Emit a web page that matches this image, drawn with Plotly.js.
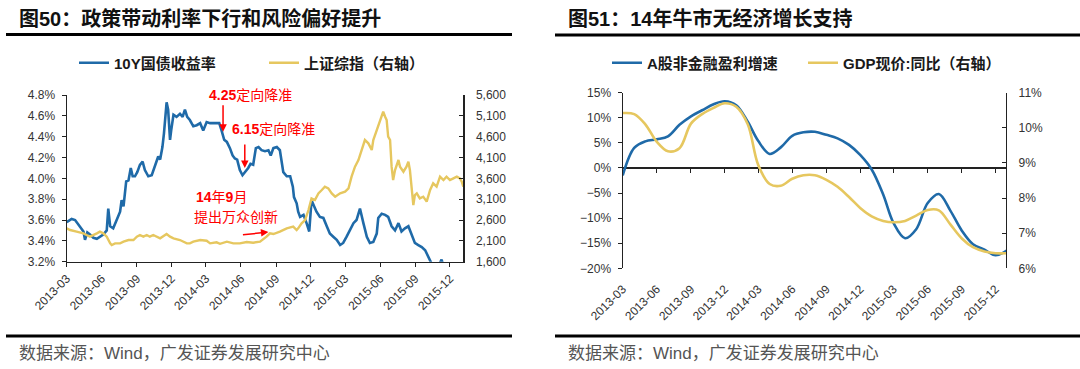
<!DOCTYPE html>
<html>
<head>
<meta charset="utf-8">
<script src="https://cdn.plot.ly/plotly-3.0.1.min.js"></script>
<style>
  html, body { margin: 0; padding: 0; background: #fff; }
  #chart { width: 1080px; height: 369px; }
</style>
</head>
<body>
<div id="chart"></div>
<script>
// ---------- Figure 50: 10Y government bond yield (left axis) vs SSE Composite (right axis) ----------
const bondDates = ['2013-03-01','2013-03-14','2013-03-23','2013-04-05','2013-04-14','2013-04-18','2013-04-24','2013-05-01','2013-05-10','2013-05-19','2013-05-27','2013-06-05','2013-06-14','2013-06-18','2013-06-23','2013-07-01','2013-07-10','2013-07-19','2013-07-23','2013-07-28','2013-08-04','2013-08-10','2013-08-16','2013-08-21','2013-08-27','2013-09-02','2013-09-09','2013-09-16','2013-09-22','2013-10-01','2013-10-10','2013-10-19','2013-10-27','2013-11-01','2013-11-07','2013-11-11','2013-11-15','2013-11-18','2013-11-22','2013-11-27','2013-11-30','2013-12-06','2013-12-14','2013-12-23','2013-12-30','2014-01-05','2014-01-11','2014-01-18','2014-01-27','2014-02-05','2014-02-14','2014-02-22','2014-03-03','2014-03-12','2014-03-25','2014-04-05','2014-04-11','2014-04-18','2014-04-25','2014-05-03','2014-05-10','2014-05-16','2014-05-22','2014-05-29','2014-06-05','2014-06-12','2014-06-20','2014-06-26','2014-07-03','2014-07-10','2014-07-17','2014-07-25','2014-08-03','2014-08-12','2014-08-18','2014-08-25','2014-09-03','2014-09-11','2014-09-16','2014-09-20','2014-09-29','2014-10-08','2014-10-15','2014-10-18','2014-10-25','2014-10-29','2014-11-03','2014-11-12','2014-11-20','2014-11-27','2014-12-03','2014-12-08','2014-12-16','2014-12-25','2015-01-03','2015-01-12','2015-01-20','2015-01-29','2015-02-07','2015-02-16','2015-02-24','2015-03-05','2015-03-14','2015-03-23','2015-03-31','2015-04-09','2015-04-18','2015-04-27','2015-05-05','2015-05-14','2015-05-23','2015-05-27','2015-06-05','2015-06-14','2015-06-22','2015-07-01','2015-07-10','2015-07-19','2015-07-27','2015-08-05','2015-08-14','2015-08-23','2015-08-31','2015-09-09','2015-09-18','2015-09-27','2015-10-05','2015-10-10','2015-10-18','2015-10-27','2015-11-03','2015-11-09','2015-11-15','2015-11-27','2015-12-10','2015-12-23','2016-01-05'];
const bondYield = [3.58,3.61,3.60,3.54,3.49,3.41,3.48,3.46,3.43,3.42,3.44,3.46,3.50,3.71,3.54,3.52,3.60,3.68,3.79,3.73,3.97,3.98,4.10,4.02,4.02,4.06,4.13,4.16,4.08,4.02,4.03,4.13,4.21,4.18,4.30,4.43,4.62,4.73,4.66,4.37,4.46,4.61,4.59,4.62,4.59,4.66,4.59,4.56,4.50,4.51,4.53,4.46,4.54,4.53,4.53,4.53,4.46,4.37,4.35,4.29,4.22,4.19,4.18,4.08,4.03,4.06,4.10,4.14,4.13,4.29,4.30,4.27,4.26,4.27,4.22,4.29,4.30,4.27,4.16,4.06,4.02,4.02,3.92,3.82,3.76,3.68,3.63,3.65,3.57,3.49,3.79,3.74,3.68,3.63,3.62,3.54,3.47,3.44,3.41,3.36,3.38,3.44,3.50,3.57,3.60,3.71,3.57,3.44,3.38,3.39,3.47,3.62,3.66,3.65,3.63,3.54,3.50,3.57,3.49,3.52,3.54,3.46,3.38,3.36,3.34,3.31,3.25,3.20,3.15,3.12,3.17,3.22,3.15,3.06,3.02,2.96,2.90];

const sseDates = ['2013-03-01','2013-03-10','2013-03-27','2013-04-14','2013-04-22','2013-05-01','2013-05-19','2013-05-27','2013-06-05','2013-06-14','2013-06-23','2013-06-27','2013-07-06','2013-07-19','2013-07-28','2013-08-10','2013-08-23','2013-09-01','2013-09-09','2013-09-18','2013-09-27','2013-10-05','2013-10-14','2013-11-01','2013-11-18','2013-11-27','2013-12-06','2013-12-23','2014-01-10','2014-01-18','2014-01-27','2014-02-14','2014-03-03','2014-03-12','2014-03-29','2014-04-07','2014-04-25','2014-05-12','2014-05-29','2014-06-16','2014-07-03','2014-07-21','2014-08-07','2014-08-16','2014-08-25','2014-09-11','2014-09-29','2014-10-16','2014-10-25','2014-10-29','2014-11-07','2014-11-16','2014-11-25','2014-11-29','2014-12-03','2014-12-12','2014-12-21','2014-12-30','2015-01-07','2015-01-16','2015-01-25','2015-02-03','2015-02-16','2015-03-01','2015-03-10','2015-03-18','2015-03-27','2015-04-05','2015-04-13','2015-04-22','2015-05-01','2015-05-10','2015-05-14','2015-05-23','2015-06-01','2015-06-05','2015-06-09','2015-06-14','2015-06-18','2015-06-22','2015-06-27','2015-07-01','2015-07-05','2015-07-10','2015-07-19','2015-07-23','2015-08-01','2015-08-09','2015-08-14','2015-08-18','2015-08-23','2015-08-27','2015-08-31','2015-09-05','2015-09-13','2015-09-22','2015-10-01','2015-10-10','2015-10-18','2015-10-27','2015-11-05','2015-11-14','2015-11-22','2015-12-01','2015-12-10','2015-12-19','2015-12-27','2016-01-01','2016-01-05'];
const sseIndex = [2400,2360,2320,2280,2240,2200,2280,2320,2280,2200,2040,2000,2040,2040,2080,2120,2120,2200,2240,2200,2240,2200,2240,2160,2264,2200,2160,2120,2040,2040,2080,2120,2104,2040,2064,2030,2080,2040,2040,2072,2056,2080,2200,2280,2264,2320,2400,2440,2360,2400,2520,2600,2840,3000,3120,3080,3240,3320,3400,3360,3240,3160,3240,3280,3360,3640,3880,4040,4280,4520,4440,4280,4520,4760,5000,5120,5200,5080,5000,4600,4520,3880,3560,3800,4040,3880,3760,3880,4000,3800,3400,2960,3200,3240,3120,3160,3040,3320,3480,3400,3640,3560,3640,3560,3600,3640,3600,3520,3400];

// ---------- Figure 51: A-share non-financial earnings growth (left) vs nominal GDP yoy (right) ----------
const monthDates = ['2013-03-01','2013-04-01','2013-05-01','2013-06-01','2013-07-01','2013-08-01','2013-09-01','2013-10-01','2013-11-01','2013-12-01','2014-01-01','2014-02-01','2014-03-01','2014-04-01','2014-05-01','2014-06-01','2014-07-01','2014-08-01','2014-09-01','2014-10-01','2014-11-01','2014-12-01','2015-01-01','2015-02-01','2015-03-01','2015-04-01','2015-05-01','2015-06-01','2015-07-01','2015-08-01','2015-09-01','2015-10-01','2015-11-01','2015-12-01','2016-01-01'];
const earningsGrowth = [-1.5,4.0,5.3,5.7,6.3,8.6,10.3,11.5,12.7,13.3,12.5,9.2,5.4,2.8,4.1,6.4,7.1,7.2,6.6,5.9,4.6,2.6,-0.3,-5.3,-11.0,-14.0,-12.2,-7.0,-5.2,-8.5,-12.5,-15.2,-16.3,-17.4,-16.4];
const gdpNominal = [10.42,10.39,10.10,9.60,9.33,9.42,10.12,10.39,10.57,10.70,10.60,10.10,8.95,8.40,8.35,8.55,8.65,8.65,8.52,8.32,8.03,7.72,7.48,7.35,7.31,7.35,7.50,7.66,7.65,7.25,6.85,6.60,6.48,6.43,6.43];

// ---------- text ----------
const legendNames = ['10Y国债收益率', '上证综指（右轴）', 'A股非金融盈利增速', 'GDP现价:同比（右轴）'];
const titleLeft = '图50：政策带动利率下行和风险偏好提升';
const titleRight = '图51：14年牛市无经济增长支持';
const sourceText = '数据来源：Wind，广发证券发展研究中心';

// ---------- styles ----------
const BLUE = '#1f6aa8';
const GOLD = '#e6c75f';
const AXIS = '#222222';
const LATIN = 'Liberation Sans, Arial, Noto Sans CJK SC, sans-serif';
const W = 1080, H = 369;
const px = v => v / W;           // horizontal pixel -> paper
const py = v => 1 - v / H;       // vertical pixel -> paper

const leftX = [px(66.7), px(463.3)];
const leftY = [py(261.7), py(95)];
const rightX = [px(622.7), px(1006)];
const rightY = [py(268.3), py(92.7)];
const rightLeftRange = [-20, 15];
const zeroPos = rightY[0] + (0 - rightLeftRange[0]) / (rightLeftRange[1] - rightLeftRange[0]) * (rightY[1] - rightY[0]);
const rightDateRange = ['2013-03-01', '2015-12-29'];

const tickFont = {family: LATIN, size: 12, color: '#333'};

const traces = [
  {x: bondDates, y: bondYield, name: legendNames[0], type: 'scatter', mode: 'lines',
   line: {color: BLUE, width: 2.6}, xaxis: 'x', yaxis: 'y', legend: 'legend'},
  {x: sseDates, y: sseIndex, name: legendNames[1], type: 'scatter', mode: 'lines',
   line: {color: GOLD, width: 2.4}, xaxis: 'x', yaxis: 'y2', legend: 'legend'},
  {x: monthDates, y: earningsGrowth, name: legendNames[2], type: 'scatter', mode: 'lines',
   line: {color: BLUE, width: 2.6, shape: 'spline', smoothing: 1}, xaxis: 'x3', yaxis: 'y3', legend: 'legend2'},
  {x: monthDates, y: gdpNominal, name: legendNames[3], type: 'scatter', mode: 'lines',
   line: {color: GOLD, width: 2.6, shape: 'spline', smoothing: 1}, xaxis: 'x4', yaxis: 'y4', legend: 'legend2'}
];

const legendFont = {family: LATIN, size: 15, weight: 'bold', color: '#1a1a1a'};

const layout = {
  width: W, height: H,
  margin: {l: 0, r: 0, t: 0, b: 0},
  paper_bgcolor: '#ffffff', plot_bgcolor: 'rgba(0,0,0,0)',
  font: {family: LATIN, color: '#222'},
  showlegend: true,
  xaxis: {
    type: 'date', domain: leftX, anchor: 'y', range: ['2013-03-01', '2016-01-05'],
    tick0: '2013-03-01', dtick: 'M3', tickformat: '%Y-%m', tickangle: -45, tickfont: tickFont,
    showgrid: false, zeroline: false,
    showline: true, linecolor: AXIS, linewidth: 1.2, ticks: 'outside', ticklen: 4, tickcolor: AXIS
  },
  yaxis: {
    domain: leftY, anchor: 'x', range: [3.2, 4.8], tick0: 3.2, dtick: 0.2, tickformat: '.1f', ticksuffix: '%',
    showgrid: false, zeroline: false, showline: true, linecolor: AXIS, linewidth: 1.2,
    ticks: 'outside', ticklen: 4, tickcolor: AXIS, tickfont: tickFont, ticklabelstandoff: 4
  },
  yaxis2: {
    overlaying: 'y', side: 'right', anchor: 'x', range: [1600, 5600], tick0: 1600, dtick: 500, tickformat: ',d',
    showgrid: false, zeroline: false, showline: true, linecolor: AXIS, linewidth: 1.2,
    ticks: 'inside', ticklen: 4, tickcolor: AXIS, tickfont: tickFont, ticklabelstandoff: 9
  },
  // date axis placed on the 0% level (ticks only; the line itself is the 0% zeroline of yaxis3)
  xaxis3: {
    type: 'date', domain: rightX, anchor: 'free', position: zeroPos, range: rightDateRange,
    tick0: '2013-03-01', dtick: 'M3', showticklabels: false, showgrid: false, zeroline: false,
    showline: false, ticks: 'outside', ticklen: 4, tickcolor: AXIS
  },
  // same dates, labels only, at the bottom of the plot
  xaxis4: {
    type: 'date', overlaying: 'x3', anchor: 'y3', range: rightDateRange,
    tick0: '2013-03-01', dtick: 'M3', tickformat: '%Y-%m', tickangle: -45, tickfont: tickFont,
    showgrid: false, zeroline: false, showline: false,
    ticks: 'outside', ticklen: 8, tickcolor: 'rgba(0,0,0,0)'
  },
  yaxis3: {
    domain: rightY, anchor: 'x4', range: rightLeftRange, tick0: -20, dtick: 5, ticksuffix: '%',
    showgrid: false, zeroline: true, zerolinecolor: AXIS, zerolinewidth: 1.2,
    showline: true, linecolor: AXIS, linewidth: 1.2,
    ticks: 'outside', ticklen: 4, tickcolor: AXIS, tickfont: tickFont, ticklabelstandoff: 4
  },
  yaxis4: {
    overlaying: 'y3', side: 'right', anchor: 'x4', range: [6, 11], tick0: 6, dtick: 1, ticksuffix: '%',
    showgrid: false, zeroline: false, showline: true, linecolor: AXIS, linewidth: 1.2,
    ticks: 'inside', ticklen: 4, tickcolor: AXIS, tickfont: tickFont, ticklabelstandoff: 9
  },
  legend: {
    orientation: 'h', x: px(74), y: py(63), xanchor: 'left', yanchor: 'middle',
    entrywidth: 145, entrywidthmode: 'pixels', bgcolor: 'rgba(0,0,0,0)', font: legendFont
  },
  legend2: {
    orientation: 'h', x: px(607), y: py(63), xanchor: 'left', yanchor: 'middle',
    entrywidth: 151, entrywidthmode: 'pixels', bgcolor: 'rgba(0,0,0,0)', font: legendFont
  },
  shapes: [
    {type: 'line', xref: 'paper', yref: 'paper', x0: px(6), x1: px(512), y0: py(34.5), y1: py(34.5), line: {color: '#000', width: 3}},
    {type: 'line', xref: 'paper', yref: 'paper', x0: px(555), x1: px(1080), y0: py(35), y1: py(35), line: {color: '#000', width: 3}},
    {type: 'line', xref: 'paper', yref: 'paper', x0: px(6), x1: px(512), y0: py(336), y1: py(336), line: {color: '#000', width: 3}},
    {type: 'line', xref: 'paper', yref: 'paper', x0: px(555), x1: px(1080), y0: py(336), y1: py(336), line: {color: '#000', width: 3}}
  ],
  annotations: [
    {xref: 'paper', yref: 'paper', x: px(17), y: py(18), xanchor: 'left', yanchor: 'middle', showarrow: false,
     text: titleLeft, font: {family: LATIN, size: 20, weight: 'bold', color: '#111'}},
    {xref: 'paper', yref: 'paper', x: px(566), y: py(18), xanchor: 'left', yanchor: 'middle', showarrow: false,
     text: titleRight, font: {family: LATIN, size: 20, weight: 'bold', color: '#111'}},
    {xref: 'paper', yref: 'paper', x: px(17), y: py(353), xanchor: 'left', yanchor: 'middle', showarrow: false,
     text: sourceText, font: {family: LATIN, size: 17, color: '#555'}},
    {xref: 'paper', yref: 'paper', x: px(566), y: py(353), xanchor: 'left', yanchor: 'middle', showarrow: false,
     text: sourceText, font: {family: LATIN, size: 17, color: '#555'}},
    // red notes on figure 50
    {xref: 'paper', yref: 'paper', x: px(250), y: py(95), xanchor: 'center', yanchor: 'middle', showarrow: false,
     text: '<b>4.25</b>定向降准', font: {family: LATIN, size: 14, color: '#ff0000'}},
    {xref: 'paper', yref: 'paper', x: px(273), y: py(129), xanchor: 'center', yanchor: 'middle', showarrow: false,
     text: '<b>6.15</b>定向降准', font: {family: LATIN, size: 14, color: '#ff0000'}},
    {xref: 'paper', yref: 'paper', x: px(221), y: py(197), xanchor: 'center', yanchor: 'middle', showarrow: false,
     text: '<b>14</b>年<b>9</b>月', font: {family: LATIN, size: 14, color: '#ff0000'}},
    {xref: 'paper', yref: 'paper', x: px(236), y: py(217), xanchor: 'center', yanchor: 'middle', showarrow: false,
     text: '提出万众创新', font: {family: LATIN, size: 14, color: '#ff0000'}},
    {xref: 'x', yref: 'y', x: '2014-04-15', y: 4.448, text: '', showarrow: true, ax: 0, ay: -28,
     arrowhead: 2, arrowsize: 1, arrowwidth: 1.5, arrowcolor: '#ff0000', standoff: 0},
    {xref: 'x', yref: 'y', x: '2014-06-11', y: 4.099, text: '', showarrow: true, ax: 0, ay: -25,
     arrowhead: 2, arrowsize: 1, arrowwidth: 1.5, arrowcolor: '#ff0000', standoff: 0},
    {xref: 'x', yref: 'y', x: '2014-08-12', y: 3.485, text: '', showarrow: true, ax: -27, ay: 3,
     arrowhead: 2, arrowsize: 1, arrowwidth: 1.5, arrowcolor: '#ff0000', standoff: 0}
  ]
};

Plotly.newPlot('chart', traces, layout, {displayModeBar: false, staticPlot: true});
</script>
</body>
</html>
